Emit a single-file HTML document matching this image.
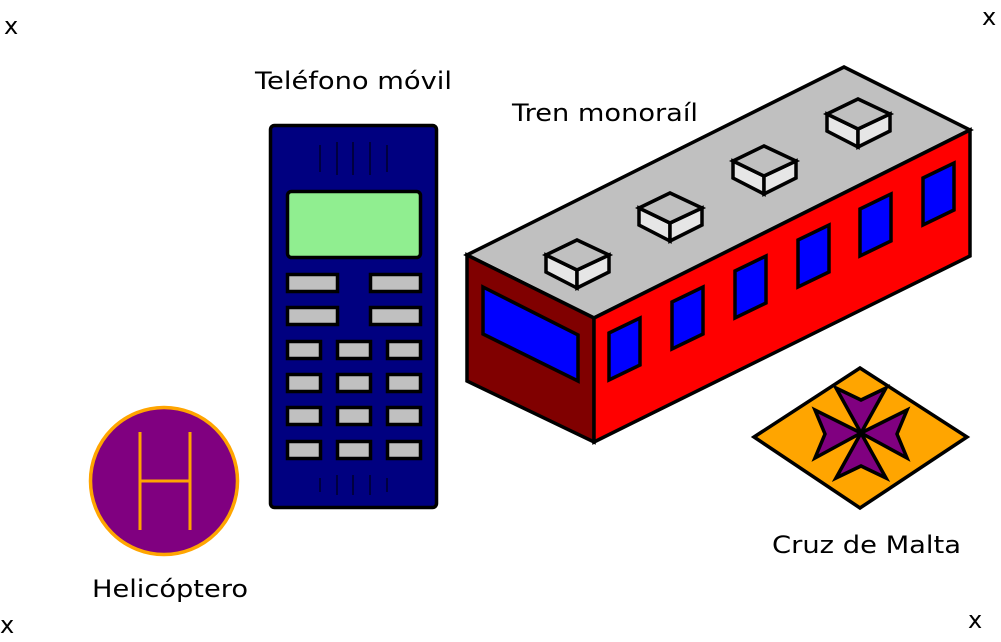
<!DOCTYPE html>
<html><head><meta charset="utf-8"><style>html,body{margin:0;padding:0;background:#fff}svg{display:block}</style></head>
<body>
<svg width="1001" height="642" viewBox="0 0 1001 642" xmlns="http://www.w3.org/2000/svg" font-family="'DejaVu Sans','Liberation Sans',sans-serif" font-size="24">
<g fill="#000">
<text x="4" y="34">x</text>
<text x="982" y="25">x</text>
<text x="0" y="633">x</text>
<text x="968" y="628">x</text>
<text x="255" y="89" textLength="197" lengthAdjust="spacingAndGlyphs">Teléfono móvil</text>
<text x="512" y="121" textLength="186" lengthAdjust="spacingAndGlyphs">Tren monoraíl</text>
<text x="772" y="553" textLength="189" lengthAdjust="spacingAndGlyphs">Cruz de Malta</text>
<text x="92" y="597" textLength="156" lengthAdjust="spacingAndGlyphs">Helicóptero</text>
</g>
<!-- phone -->
<g stroke="#000" stroke-width="3.5">
<rect x="270.5" y="125.5" width="166" height="382" rx="4" fill="#000080"/>
<rect x="287.5" y="191.5" width="133" height="66" rx="4" fill="#90ee90"/>
<g fill="#c0c0c0">
<rect x="287.5" y="274.5" width="50" height="17"/><rect x="370.5" y="274.5" width="50" height="17"/>
<rect x="287.5" y="307.5" width="50" height="17"/><rect x="370.5" y="307.5" width="50" height="17"/>
<rect x="287.5" y="341.5" width="33" height="17"/><rect x="337.5" y="341.5" width="33" height="17"/><rect x="387.5" y="341.5" width="33" height="17"/>
<rect x="287.5" y="374.5" width="33" height="17"/><rect x="337.5" y="374.5" width="33" height="17"/><rect x="387.5" y="374.5" width="33" height="17"/>
<rect x="287.5" y="407.5" width="33" height="17"/><rect x="337.5" y="407.5" width="33" height="17"/><rect x="387.5" y="407.5" width="33" height="17"/>
<rect x="287.5" y="441.5" width="33" height="17"/><rect x="337.5" y="441.5" width="33" height="17"/><rect x="387.5" y="441.5" width="33" height="17"/>
</g>
</g>
<g stroke="#000" stroke-width="1">
<path d="M320 145V172M337 142V175M353 142V175M370 142V175M387 145V172M320 478V492M337 475V495M353 475V495M370 475V495M387 478V492"/>
</g>
<!-- helicopter -->
<circle cx="164" cy="481" r="73.5" fill="#800080" stroke="#ffa500" stroke-width="3.5"/>
<path d="M140 432V530M190 432V530M140 481H190" stroke="#ffa500" stroke-width="3" fill="none"/>
<!-- train -->
<g stroke="#000" stroke-width="3.5" stroke-linejoin="miter">
<polygon points="467,255 844,67 970,130 594,318" fill="#c0c0c0"/>
<polygon points="467,255 594,318 594,442 467,381" fill="#800000"/>
<polygon points="594,318 970,130 970,256 594,442" fill="#ff0000"/>
<polygon points="483,287 578,335 578,381 483,334" fill="#0000ff"/>
<g fill="#0000ff">
<polygon points="609,333 640,318 640,365 609,380"/>
<polygon points="672,302 703,287 703,334 672,349"/>
<polygon points="735,271 766,256 766,303 735,318"/>
<polygon points="798,240 829,225 829,272 798,287"/>
<polygon points="860,209 891,194 891,241 860,256"/>
<polygon points="923,178 954,163 954,210 923,225"/>
</g>
<g id="b1">
<polygon points="546,255 577,270 577,288 546,272" fill="#e6e6e6"/>
<polygon points="577,270 609,255 609,272 577,288" fill="#e6e6e6"/>
<polygon points="546,255 577,240 609,255 577,270" fill="#c0c0c0"/>
</g>
<use href="#b1" transform="translate(93,-47)"/>
<use href="#b1" transform="translate(187,-94)"/>
<use href="#b1" transform="translate(281,-141)"/>
</g>
<!-- Malta cross -->
<g stroke="#000" stroke-width="3.5">
<polygon points="754,437 860,368 967,437 860,508" fill="#ffa500"/>
<polygon fill="#800080" stroke-linejoin="miter" points="861,433 836,388 861,400 886,388 861,433 907,410 897,434 907,458 861,433 886,478 861,466 836,478 861,433 815,458 825,434 815,410"/>
</g>
</svg>
</body></html>
